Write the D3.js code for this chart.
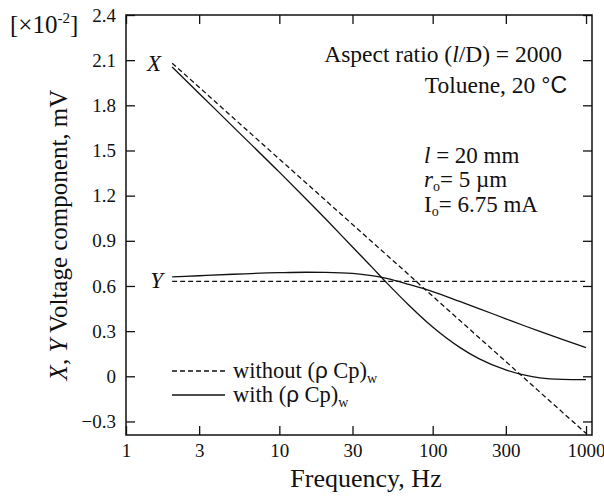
<!DOCTYPE html>
<html>
<head>
<meta charset="utf-8">
<script src="https://cdn.jsdelivr.net/npm/d3@7"></script>
<style>
  body { margin: 0; background: #fff; }
  svg text { font-family: "Liberation Serif", "Times New Roman", serif; fill: #111; }
</style>
</head>
<body>
<svg width="604" height="497"></svg>
<script>
// frequency (Hz) and the four series, values in units of 1e-2 mV
const freqs      = [2, 3, 5, 10, 15, 20, 30, 40, 50, 70, 100, 150, 200, 300, 400, 500, 700, 1000];
const xWithout   = [2.08, 1.92, 1.717, 1.443, 1.283, 1.169, 1.009, 0.895, 0.807, 0.674, 0.532, 0.372, 0.258, 0.098, -0.016, -0.105, -0.238, -0.379];
const yWithout   = [0.63, 0.63, 0.63, 0.63, 0.63, 0.63, 0.63, 0.63, 0.63, 0.63, 0.63, 0.63, 0.63, 0.63, 0.63, 0.63, 0.63, 0.63];
const xWith      = [2.055, 1.879, 1.657, 1.356, 1.176, 1.046, 0.859, 0.727, 0.622, 0.472, 0.327, 0.192, 0.117, 0.042, 0.007, -0.01, -0.02, -0.022];
const yWith      = [0.66, 0.668, 0.678, 0.688, 0.691, 0.69, 0.683, 0.668, 0.65, 0.61, 0.562, 0.497, 0.45, 0.382, 0.334, 0.298, 0.245, 0.19];

const xTicks = [1, 3, 10, 30, 100, 300, 1000];
const yTicks = [-0.3, 0, 0.3, 0.6, 0.9, 1.2, 1.5, 1.8, 2.1, 2.4];

const svg = d3.select("svg");
const margin = { top: 15, left: 126 };
const innerWidth = 466;
const innerHeight = 420;

const xScale = d3.scaleLog()
    .domain([1, 1094])
    .range([0, innerWidth]);

const yScale = d3.scaleLinear()
    .domain([-0.39, 2.4])
    .range([innerHeight, 0]);

const g = svg.append("g")
    .attr("transform", `translate(${margin.left}, ${margin.top})`);

// axes, ticks pointing inward on all four sides
const axisB = g.append("g")
    .attr("transform", `translate(0, ${innerHeight})`)
    .call(d3.axisBottom(xScale).tickValues(xTicks).tickFormat(d3.format("d"))
        .tickSizeInner(-9).tickSizeOuter(0).tickPadding(9));
const axisL = g.append("g")
    .call(d3.axisLeft(yScale).tickValues(yTicks).tickFormat(d => d === 0 ? "0" : d3.format(".1f")(d))
        .tickSizeInner(-9).tickSizeOuter(0).tickPadding(10));
const axisT = g.append("g")
    .call(d3.axisTop(xScale).tickValues(xTicks).tickSizeInner(-9).tickSizeOuter(0));
const axisR = g.append("g")
    .attr("transform", `translate(${innerWidth}, 0)`)
    .call(d3.axisRight(yScale).tickValues(yTicks).tickSizeInner(-9).tickSizeOuter(0));

// mirrored axes only carry ticks
axisT.selectAll("text").remove();
axisR.selectAll("text").remove();

[axisB, axisL, axisT, axisR].forEach(a => {
    a.attr("font-size", 19);
    a.select(".domain").remove();
    a.selectAll("line").attr("stroke", "#111").attr("stroke-width", 1.3);
    a.selectAll("text").attr("fill", "#111");
});

g.append("rect")
    .attr("width", innerWidth)
    .attr("height", innerHeight)
    .attr("fill", "none")
    .attr("stroke", "#111")
    .attr("stroke-width", 1.5);

// curves
const line = ys => d3.line()
    .x((d, i) => xScale(freqs[i]))
    .y(d => yScale(d))
    .curve(d3.curveMonotoneX)(ys);

const series = [
    { values: xWithout, dash: "5,3" },
    { values: yWithout, dash: "5,3" },
    { values: xWith, dash: null },
    { values: yWith, dash: null }
];

g.selectAll("path.curve").data(series)
    .enter().append("path")
        .attr("class", "curve")
        .attr("d", d => line(d.values))
        .attr("fill", "none")
        .attr("stroke", "#111")
        .attr("stroke-width", 1.3)
        .attr("stroke-dasharray", d => d.dash);

// X / Y labels at the curve starts
g.append("text").attr("x", xScale(2) - 11).attr("y", yScale(2.08) + 8)
    .attr("text-anchor", "end").attr("font-size", 23).attr("font-style", "italic").text("X");
g.append("text").attr("x", xScale(2) - 9).attr("y", yScale(0.64) + 8)
    .attr("text-anchor", "end").attr("font-size", 23).attr("font-style", "italic").text("Y");

// legend
const legend = [
    { label: "without (", dash: "5,3", y: 371 },
    { label: "with (", dash: null, y: 395 }
];
legend.forEach(l => {
    svg.append("line")
        .attr("x1", 172).attr("x2", 225)
        .attr("y1", l.y).attr("y2", l.y)
        .attr("stroke", "#111").attr("stroke-width", 1.3)
        .attr("stroke-dasharray", l.dash);
    const t = svg.append("text").attr("x", 233).attr("y", l.y + 7).attr("font-size", 22.5);
    t.append("tspan").text(l.label);
    t.append("tspan").attr("font-family", "Liberation Sans, sans-serif").text("ρ");
    t.append("tspan").text("  Cp)");
    t.append("tspan").attr("font-size", 14).attr("dy", 5).text("w");
});

// annotations
svg.append("text").attr("x", 562).attr("y", 62).attr("text-anchor", "end").attr("font-size", 23.5)
    .call(t => {
        t.append("tspan").text("Aspect ratio (");
        t.append("tspan").attr("font-style", "italic").text("l");
        t.append("tspan").text("/D) = 2000");
    });
svg.append("text").attr("x", 567).attr("y", 93).attr("text-anchor", "end").attr("font-size", 23.5)
    .call(t => {
        t.append("tspan").text("Toluene, 20 ");
        t.append("tspan").attr("font-family", "Liberation Sans, sans-serif").attr("font-size", 23).text("°C");
    });

const params = [
    { main: "l", italic: true, sub: "", rest: " = 20 mm", y: 163 },
    { main: "r", italic: true, sub: "o", rest: "= 5 µm", y: 187 },
    { main: "I", italic: false, sub: "o", rest: "= 6.75 mA", y: 212 }
];
params.forEach(p => {
    const t = svg.append("text").attr("x", 424).attr("y", p.y).attr("font-size", 23);
    t.append("tspan").attr("font-style", p.italic ? "italic" : null).text(p.main);
    if (p.sub) {
        t.append("tspan").attr("font-size", 14).attr("dy", 4).text(p.sub);
        t.append("tspan").attr("dy", -4).text(p.rest);
    } else {
        t.append("tspan").text(p.rest);
    }
});

// scale factor
svg.append("text").attr("x", 10).attr("y", 33).attr("font-size", 25)
    .call(t => {
        t.append("tspan").text("[×10");
        t.append("tspan").attr("font-size", 15).attr("dy", -10).text("-2");
        t.append("tspan").attr("dy", 10).text("]");
    });

// axis titles
svg.append("text").attr("x", 366).attr("y", 487).attr("text-anchor", "middle").attr("font-size", 26)
    .text("Frequency, Hz");

svg.append("text")
    .attr("transform", "translate(67, 235) rotate(-90)")
    .attr("text-anchor", "middle").attr("font-size", 25)
    .call(t => {
        t.append("tspan").attr("font-style", "italic").text("X");
        t.append("tspan").text(", ");
        t.append("tspan").attr("font-style", "italic").text("Y");
        t.append("tspan").text(" Voltage component,  mV");
    });
</script>
</body>
</html>
